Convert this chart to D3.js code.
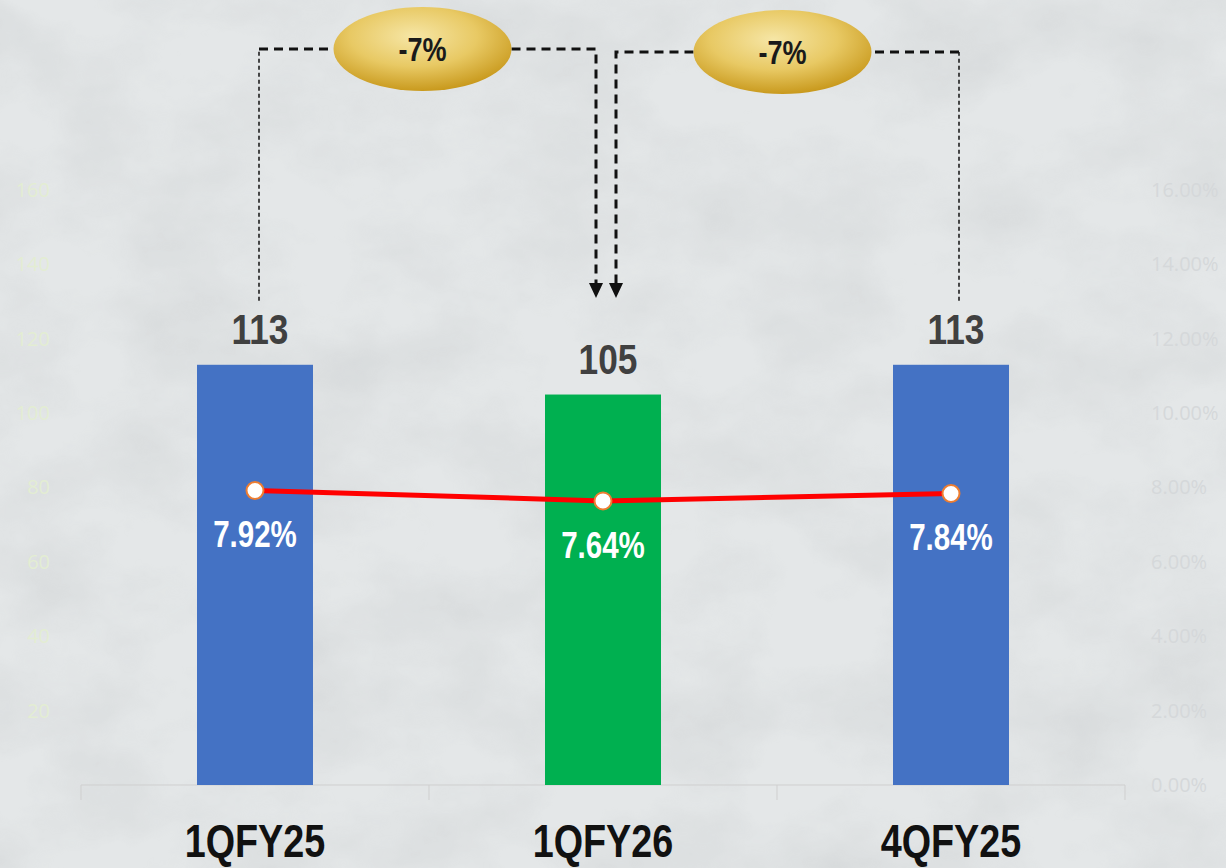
<!DOCTYPE html>
<html>
<head>
<meta charset="utf-8">
<script src="https://cdn.jsdelivr.net/npm/d3@7"></script>
<style>
  html, body { margin: 0; padding: 0; background: #e3e6e7; }
  svg { display: block; }
</style>
</head>
<body>
<script>
// data
var categories = ["1QFY25", "1QFY26", "4QFY25"];
var volumes = [113, 105, 113];
var margins = [0.0792, 0.0764, 0.0784];
var barColors = ["#4472c4", "#00b050", "#4472c4"];
var leftTicks = [20, 40, 60, 80, 100, 120, 140, 160];
var rightTicks = [0, 0.02, 0.04, 0.06, 0.08, 0.10, 0.12, 0.14, 0.16];
// change callouts: from -> to
var changes = [
  { from: "1QFY25", to: "1QFY26", label: "-7%" },
  { from: "4QFY25", to: "1QFY26", label: "-7%" }
];

var width = 1226, height = 868;
var svg = d3.select("body").append("svg").attr("width", width).attr("height", height);
var defs = svg.append("defs");

// marble-ish background
var f = defs.append("filter").attr("id", "marble").attr("x", 0).attr("y", 0).attr("width", "100%").attr("height", "100%");
f.append("feTurbulence").attr("type", "fractalNoise").attr("baseFrequency", "0.008 0.012").attr("numOctaves", 5).attr("seed", 7);
f.append("feColorMatrix").attr("type", "matrix")
  .attr("values", "0 0 0 0 0.55  0 0 0 0 0.57  0 0 0 0 0.58  0 0 0 -1.6 1.05");
svg.append("rect").attr("width", width).attr("height", height).attr("fill", "#e4e7e8");
svg.append("rect").attr("width", width).attr("height", height).attr("filter", "url(#marble)").attr("opacity", 0.4);

var grad = defs.append("radialGradient").attr("id", "gold").attr("cx", "45%").attr("cy", "35%").attr("r", "65%");
grad.append("stop").attr("offset", "0%").attr("stop-color", "#f6e6a6");
grad.append("stop").attr("offset", "55%").attr("stop-color", "#e8c964");
grad.append("stop").attr("offset", "100%").attr("stop-color", "#c99a1e");

// scales
var x = d3.scaleBand().domain(categories).range([81, 1125]).padding(0);
var y = d3.scaleLinear().domain([0, 160]).range([785, 190]);
var yPct = d3.scaleLinear().domain([0, 0.16]).range([785, 190]);
var barW = x.bandwidth() / 3;
function cx(c) { return x(c) + x.bandwidth() / 2; }

// narrow text helper (emulates Arial Narrow)
function narrow(sel, k) {
  sel.each(function () {
    var w = this.getComputedTextLength();
    d3.select(this).attr("textLength", w * (k || 0.82)).attr("lengthAdjust", "spacingAndGlyphs");
  });
}

// faint axes
var leftAxis = d3.axisLeft(y).tickValues(leftTicks).tickSize(0).tickPadding(0);
var gl = svg.append("g").attr("transform", "translate(50,0)").call(leftAxis);
gl.select(".domain").remove();
gl.selectAll("text").attr("fill", "#e3edd3").style("font-family", "'Open Sans', 'Liberation Sans', sans-serif").style("font-size", "20px");

var rightAxis = d3.axisRight(yPct).tickValues(rightTicks).tickSize(0).tickPadding(0).tickFormat(d3.format(".2%"));
var gr = svg.append("g").attr("transform", "translate(1151,0)").call(rightAxis);
gr.select(".domain").remove();
gr.selectAll("text").attr("fill", "#d5d8da").style("font-family", "'Open Sans', 'Liberation Sans', sans-serif").style("font-size", "20px");

// bottom axis
var gx = svg.append("g").attr("transform", "translate(0,785)");
gx.append("line").attr("x1", x.range()[0]).attr("x2", x.range()[1]).attr("stroke", "#cfcfcf").attr("stroke-width", 1);
var bounds = categories.map(function (c) { return x(c); }).concat([x.range()[1]]);
gx.selectAll("line.tick").data(bounds).enter().append("line").attr("class", "tick")
  .attr("x1", function (d) { return d; }).attr("x2", function (d) { return d; })
  .attr("y1", 0).attr("y2", 15).attr("stroke", "#cfcfcf");
gx.selectAll("text").data(categories).enter().append("text")
  .attr("x", function (d) { return cx(d); }).attr("y", 72)
  .attr("text-anchor", "middle").attr("fill", "#111")
  .style("font-family", "'Liberation Sans', Arial, sans-serif").style("font-weight", "bold").style("font-size", "46px")
  .text(function (d) { return d; }).call(narrow);

// bars
svg.selectAll("rect.bar").data(volumes).enter().append("rect").attr("class", "bar")
  .attr("x", function (d, i) { return cx(categories[i]) - barW / 2; })
  .attr("y", function (d) { return y(d); })
  .attr("width", barW)
  .attr("height", function (d) { return y(0) - y(d); })
  .attr("fill", function (d, i) { return barColors[i]; });

svg.selectAll("text.vol").data(volumes).enter().append("text").attr("class", "vol")
  .attr("x", function (d, i) { return cx(categories[i]) + 5; })
  .attr("y", function (d) { return y(d) - 21; })
  .attr("text-anchor", "middle").attr("fill", "#404040")
  .style("font-family", "'Liberation Sans', Arial, sans-serif").style("font-weight", "bold").style("font-size", "43px")
  .text(function (d) { return d; }).call(narrow);

// margin line
var line = d3.line().x(function (d, i) { return cx(categories[i]); }).y(function (d) { return yPct(d); });
svg.append("path").datum(margins).attr("d", line).attr("fill", "none").attr("stroke", "#ff0000").attr("stroke-width", 5);
svg.selectAll("circle.pt").data(margins).enter().append("circle").attr("class", "pt")
  .attr("cx", function (d, i) { return cx(categories[i]); })
  .attr("cy", function (d) { return yPct(d); })
  .attr("r", 8.5).attr("fill", "#fff").attr("stroke", "#ed7d31").attr("stroke-width", 2);
svg.selectAll("text.pct").data(margins).enter().append("text").attr("class", "pct")
  .attr("x", function (d, i) { return cx(categories[i]); })
  .attr("y", function (d) { return yPct(d) + 57; })
  .attr("text-anchor", "middle").attr("fill", "#fff")
  .style("font-family", "'Liberation Sans', Arial, sans-serif").style("font-weight", "bold").style("font-size", "36px")
  .text(function (d) { return d3.format(".2%")(d); }).call(narrow);

// change callouts
var calloutY = [49, 52];
var srcOffset = [4, 8];
var dstOffset = [-7, 13];
var arrowTip = 298;
changes.forEach(function (c, i) {
  var i0 = categories.indexOf(c.from);
  var sx = cx(c.from) + srcOffset[i];
  var tx = cx(c.to) + dstOffset[i];
  var ty = calloutY[i];
  var sBottom = y(volumes[i0]) - 64;
  var mid = (sx + tx) / 2 - 5;
  var rx = 89, ry = 42;
  var g = svg.append("g");
  // thin vertical from source label
  g.append("path").attr("d", "M" + sx + "," + sBottom + "V" + ty)
    .attr("fill", "none").attr("stroke", "#111").attr("stroke-width", 1.5).attr("stroke-dasharray", "4,3");
  // thick horizontals and drop to target
  var dir = tx > sx ? 1 : -1;
  g.append("path").attr("d", "M" + sx + "," + ty + "H" + (mid - dir * rx))
    .attr("fill", "none").attr("stroke", "#111").attr("stroke-width", 3).attr("stroke-dasharray", "9,6");
  g.append("path").attr("d", "M" + (mid + dir * rx) + "," + ty + "H" + tx + "V" + (arrowTip - 14))
    .attr("fill", "none").attr("stroke", "#111").attr("stroke-width", 3).attr("stroke-dasharray", "9,6");
  g.append("path").attr("d", "M" + (tx - 7) + "," + (arrowTip - 15) + "L" + (tx + 7) + "," + (arrowTip - 15) + "L" + tx + "," + arrowTip + "Z")
    .attr("fill", "#111");
  g.append("ellipse").attr("cx", mid).attr("cy", ty).attr("rx", rx).attr("ry", ry).attr("fill", "url(#gold)");
  g.append("text").attr("x", mid).attr("y", ty + 12).attr("text-anchor", "middle").attr("fill", "#1a1a1a")
    .style("font-family", "'Liberation Sans', Arial, sans-serif").style("font-weight", "bold").style("font-size", "33px")
    .text(c.label).call(narrow);
});
</script>
</body>
</html>
